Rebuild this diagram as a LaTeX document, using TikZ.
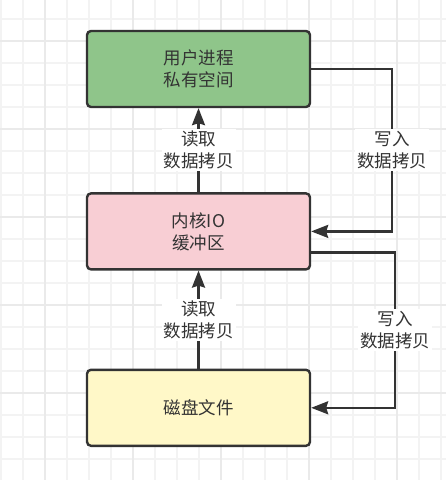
\documentclass[tikz,border=0pt]{standalone}
\usepackage{fontspec}
\setmainfont{Noto Sans CJK SC}
\usepackage{xcolor}
\usetikzlibrary{arrows.meta, positioning}
\definecolor{linegray}{RGB}{51,51,51}
\definecolor{usergreen}{RGB}{143,197,138}
\definecolor{kernelpink}{RGB}{248,206,212}
\definecolor{diskyellow}{RGB}{255,248,200}
\definecolor{gridminor}{RGB}{243,243,243}
\definecolor{gridmajor}{RGB}{234,234,234}
\tikzset{
  block/.style={rectangle, draw=linegray, line width=2.4pt, rounded corners=4pt,
                minimum width=223pt, minimum height=76pt, text centered, align=center,
                font=\fontsize{17.5}{22}\selectfont, text=linegray},
  lbl/.style={fill=white, align=center, inner sep=2pt,
              font=\fontsize{17.5}{22}\selectfont, text=linegray},
  arrow/.style={-{Stealth[length=17pt, width=13pt, inset=2pt]}, draw=linegray, line width=2.4pt}
}
\begin{document}
\begin{tikzpicture}[x=1pt, y=-1pt]
    \useasboundingbox (0,0) rectangle (446,480);
    \fill[white] (0,0) rectangle (446,480);
    \foreach \gx in {1,23,...,445} \draw[gridminor, line width=1.2pt] (\gx,0) -- (\gx,480);
    \foreach \gy in {19,41,...,479} \draw[gridminor, line width=1.2pt] (0,\gy) -- (446,\gy);
    \foreach \gx in {45,133,...,445} \draw[gridmajor, line width=1.2pt] (\gx,0) -- (\gx,480);
    \foreach \gy in {41,129,...,479} \draw[gridmajor, line width=1.2pt] (0,\gy) -- (446,\gy);

    \node[block, fill=usergreen] (user) at (198.5,69) {用户进程\\私有空间};
    \node[block, fill=kernelpink, below=84pt of user] (kernel) {内核IO\\缓冲区};
    \node[block, fill=diskyellow, below=98pt of kernel] (disk) {磁盘文件};

    \draw[arrow] (kernel) -- node[lbl]{读取\\数据拷贝} (user);
    \draw[arrow] (disk) -- node[lbl]{读取\\数据拷贝} (kernel);
    \draw[arrow] (user.east) -- ++(81,0) |- node[lbl, pos=0.25]{写入\\数据拷贝} (kernel.east);
    \draw[arrow] ([yshift=-21pt]kernel.east) -- ++(84,0) |- node[lbl, pos=0.25]{写入\\数据拷贝} (disk.east);
\end{tikzpicture}
\end{document}
